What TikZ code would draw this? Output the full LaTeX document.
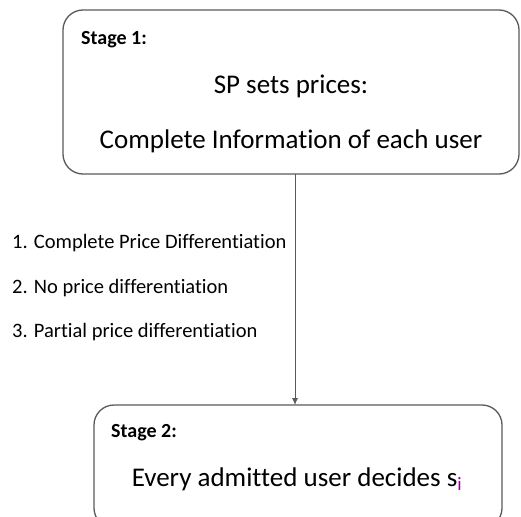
\documentclass[tikz,border=0pt]{standalone}
\usepackage{fontspec}
\setmainfont{Carlito}[Ligatures=NoCommon]
\usetikzlibrary{arrows.meta}
\definecolor{boxline}{RGB}{90,90,90}
\tikzset{
  stagebox/.style={draw=boxline, line width=1.3pt, rounded corners=20pt, fill=white},
  bigtext/.style={font=\fontsize{27}{32}\selectfont, anchor=base, inner sep=0pt},
  smalltext/.style={font=\fontsize{20.5}{24}\selectfont, anchor=base west, inner sep=0pt},
  stagelabel/.style={font=\fontsize{20}{24}\selectfont\bfseries, anchor=base west, inner sep=0pt},
  conn/.style={draw=boxline, line width=0.9pt, -{Latex[length=7pt,width=6pt]}}
}
\begin{document}
\begin{tikzpicture}[x=1pt,y=-1pt]
\useasboundingbox (0,0) rectangle (521,516);
\draw[stagebox] (63,10) rectangle (519,174);
\coordinate (top1) at (295,174);
\node[stagelabel] (s1) at (81,45) {Stage 1:};
\node[bigtext] (sp) at (291,94) {SP sets prices:};
\node[bigtext] (ci) at (291,148) {Complete Information of each user};
\draw[stagebox] (94,405) rectangle (502,528);
\coordinate (top2) at (295,405);
\node[stagelabel] (s2) at (111,437) {Stage 2:};
\node[bigtext] (ev) at (297,486) {Every admitted user decides s\textsubscript{\textcolor[RGB]{150,0,150}{i}}};
\draw[conn] (top1) -- (top2);
\node[smalltext] (l1) at (12,248) {1. Complete Price Differentiation};
\node[smalltext] (l2) at (12,293) {2. No price differentiation};
\node[smalltext] (l3) at (12,337) {3. Partial price differentiation};
\end{tikzpicture}
\end{document}
